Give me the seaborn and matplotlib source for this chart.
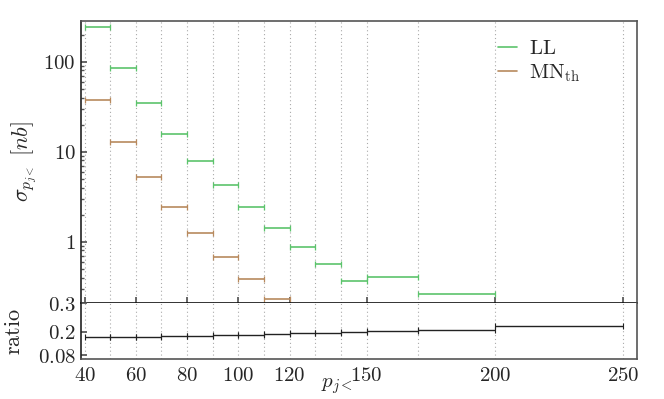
import numpy as np
import pandas as pd
import matplotlib
matplotlib.use("Agg")
import matplotlib.pyplot as plt
from matplotlib.lines import Line2D
import seaborn as sns

# ---- data ----
bin_lo = [40, 50, 60, 70, 80, 90, 100, 110, 120, 130, 140, 150, 170, 200]
bin_hi = [50, 60, 70, 80, 90, 100, 110, 120, 130, 140, 150, 170, 200, 250]
ll_vals = [245, 84.5, 34.5, 15.7, 7.9, 4.27, 2.41, 1.43, 0.88, 0.56, 0.37, 0.41, 0.26, np.nan]
mn_vals = [37.5, 12.9, 5.28, 2.45, 1.24, 0.67, 0.385, 0.233, np.nan, np.nan, np.nan, np.nan, np.nan, np.nan]
ratio_vals = [0.1815, 0.1822, 0.1829, 0.184, 0.1854, 0.1875, 0.1895, 0.192,
              0.1944, 0.1969, 0.199, 0.2014, 0.2077, 0.2199]
grid_edges = [40, 50, 60, 70, 80, 90, 100, 110, 120, 130, 140, 150, 170, 200, 250]
xtick_vals = [40, 60, 80, 100, 120, 150, 200, 250]
xtick_labels = ["$40$", "$60$", "$80$", "$100$", "$120$", "$150$", "$200$", "$250$"]
ytick_main_vals = [100, 10, 1]
ytick_main_labels = ["$100$", "$10$", "$1$"]
ytick_ratio_vals = [0.3, 0.2, 0.119]
ytick_ratio_labels = ["$0.3$", "$0.2$", "$0.08$"]
series_labels = [r"$\mathrm{LL}$", r"$\mathrm{MN}_{\mathrm{th}}$"]

sns.set_theme(style="white")
plt.rcParams["mathtext.fontset"] = "cm"
plt.rcParams["font.family"] = ["DejaVu Serif"]

df = pd.DataFrame({"lo": bin_lo, "hi": bin_hi, "LL": ll_vals, "MN": mn_vals, "ratio": ratio_vals})
df["c"] = (df["lo"] + df["hi"]) / 2
df["h"] = (df["hi"] - df["lo"]) / 2

green = "#5cc46c"
brown = "#b88a5e"
spine_col = "#555555"

fig = plt.figure(figsize=(6.64, 3.99), dpi=100)
ax = fig.add_axes([0.1215, 0.240, 0.8375, 0.708])
axr = fig.add_axes([0.1215, 0.0995, 0.8375, 0.1405], sharex=ax)

for a in (ax, axr):
    for e in grid_edges:
        a.axvline(e, color="#aaaaaa", lw=0.8, ls=(0, (1, 2.5)), zorder=0)

d1 = df.dropna(subset=["LL"])
ax.errorbar(d1["c"], d1["LL"], xerr=d1["h"], fmt="none", ecolor=green, elinewidth=1.2,
            capsize=2, capthick=0.9)
d2 = df.dropna(subset=["MN"])
ax.errorbar(d2["c"], d2["MN"], xerr=d2["h"], fmt="none", ecolor=brown, elinewidth=1.2,
            capsize=2, capthick=0.9)
axr.errorbar(df["c"], df["ratio"], xerr=df["h"], fmt="none", ecolor="#222222", elinewidth=1.0,
             capsize=2, capthick=0.8)

ax.set_yscale("log")
ax.set_ylim(0.207, 285.6)
ax.set_xlim(38.5, 255.3)
ax.set_yticks(ytick_main_vals)
ax.set_yticklabels(ytick_main_labels, fontsize=15)
ax.yaxis.set_minor_locator(matplotlib.ticker.LogLocator(base=10, subs=np.arange(2, 10)))
ax.yaxis.set_minor_formatter(matplotlib.ticker.NullFormatter())
ax.tick_params(axis="y", which="major", direction="in", length=4, left=True, color=spine_col)
ax.tick_params(axis="y", which="minor", direction="in", length=2, left=True, color=spine_col)
ax.set_xticks(grid_edges)
ax.tick_params(axis="x", which="major", direction="in", length=4, bottom=True,
               labelbottom=False, color=spine_col)
ax.set_ylabel(r"$\sigma_{p_{j<}}\ [nb]$", fontsize=16)

axr.set_ylim(0.104, 0.3)
axr.set_yticks(ytick_ratio_vals)
axr.set_yticklabels(ytick_ratio_labels, fontsize=15)
axr.tick_params(axis="y", direction="in", length=4, left=True, color=spine_col)
axr.set_xticks(xtick_vals)
axr.set_xticklabels(xtick_labels, fontsize=15)
axr.tick_params(axis="x", length=0, pad=5)
axr.set_ylabel(r"$\mathrm{ratio}$", fontsize=16)
axr.set_xlabel(r"$p_{j<}$", fontsize=15)
axr.xaxis.set_label_coords(0.46, -0.30)
ax.yaxis.set_label_coords(-0.075, 0.5)
axr.yaxis.set_label_coords(-0.1, 0.5)

for a in (ax, axr):
    for s in a.spines.values():
        s.set_color(spine_col)
        s.set_linewidth(1.2)
ax.spines["bottom"].set_color("#111111")
axr.spines["top"].set_visible(False)
ax.spines["left"].set_color("#222222")
axr.spines["left"].set_color("#222222")

handles = [Line2D([], [], color=green, lw=1.2), Line2D([], [], color=brown, lw=1.2)]
leg = ax.legend(handles, series_labels, loc="upper left", bbox_to_anchor=(0.717, 1.0),
                frameon=False, fontsize=15, handlelength=0.9, handletextpad=0.6,
                labelspacing=0.2)

fig.savefig("out.png", dpi=100)
